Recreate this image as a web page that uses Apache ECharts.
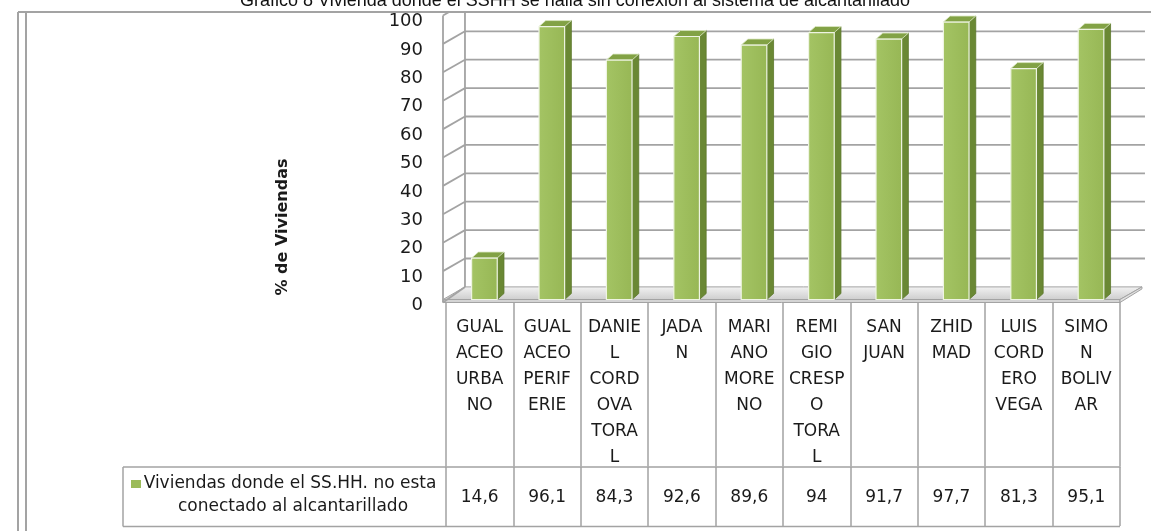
<!DOCTYPE html>
<html><head><meta charset="utf-8">
<script src="https://cdn.jsdelivr.net/npm/echarts@6/dist/echarts.min.js"></script>
<style>html,body{margin:0;padding:0;background:#fff}#c{width:1151px;height:531px}</style>
</head><body><div id="c"></div>
<script>
const chartTitle = 'Gráfico 8 Vivienda donde el SSHH se halla sin conexión al sistema de alcantarillado';
const yAxisTitle = '% de Viviendas';
const legendLines = ['Viviendas donde el SS.HH. no esta', 'conectado al alcantarillado'];
const categories = ['GUAL\nACEO\nURBA\nNO', 'GUAL\nACEO\nPERIF\nERIE', 'DANIE\nL\nCORD\nOVA\nTORA\nL', 'JADA\nN', 'MARI\nANO\nMORE\nNO', 'REMI\nGIO\nCRESP\nO\nTORA\nL', 'SAN\nJUAN', 'ZHID\nMAD', 'LUIS\nCORD\nERO\nVEGA', 'SIMO\nN\nBOLIV\nAR'];
const values = [14.6, 96.1, 84.3, 92.6, 89.6, 94, 91.7, 97.7, 81.3, 95.1];
const yTicks = [0, 10, 20, 30, 40, 50, 60, 70, 80, 90, 100];

const FONT = 'DejaVu Sans';
const GRID_COLOR = '#A3A3A3';
const TOP_CLIP = 12;
const valueLabels = values.map(v => String(v).replace('.', ','));

function clipSeg(x1, y1, x2, y2) {
  if (y1 < TOP_CLIP && y2 < TOP_CLIP) return null;
  if (y1 < TOP_CLIP) { const t = (TOP_CLIP - y1) / (y2 - y1); x1 = x1 + (x2 - x1) * t; y1 = TOP_CLIP; }
  if (y2 < TOP_CLIP) { const t = (TOP_CLIP - y2) / (y1 - y2); x2 = x2 + (x1 - x2) * t; y2 = TOP_CLIP; }
  return { x1, y1, x2, y2 };
}

function wallItem(params, api) {
  const band = api.size([1, 0])[0];
  const left = api.coord([0, 0])[0] - band / 2;
  const right = api.coord([categories.length - 1, 0])[0] + band / 2;
  const y = v => api.coord([0, v])[1];
  const dx = band * 0.326, dy = -12.6;
  const FL = left - 3;
  const y0 = y(0);
  const ch = [];
  const addLine = (x1, y1, x2, y2, w) => {
    const s = clipSeg(x1, y1, x2, y2);
    if (s) ch.push({ type: 'line', silent: true, shape: s, style: { stroke: GRID_COLOR, lineWidth: w || 1.8 } });
  };
  ch.push({ type: 'polygon', silent: true,
    shape: { points: [[FL, y0], [right, y0], [right + dx, y0 + dy], [FL + dx, y0 + dy]] },
    style: { fill: new echarts.graphic.LinearGradient(0, 0, 0, 1, [{ offset: 0, color: '#f3f3f3' }, { offset: 1, color: '#cdcdcd' }]), stroke: GRID_COLOR, lineWidth: 1 } });
  ch.push({ type: 'polygon', silent: true,
    shape: { points: [[FL, y0], [right, y0], [right, y0 + 3], [FL, y0 + 3]] },
    style: { fill: '#d4d4d4', stroke: GRID_COLOR, lineWidth: 1 } });
  ch.push({ type: 'polygon', silent: true,
    shape: { points: [[right, y0], [right + dx, y0 + dy], [right + dx, y0 + dy + 2], [right, y0 + 3]] },
    style: { fill: '#e0e0e0', stroke: GRID_COLOR, lineWidth: 1 } });
  yTicks.forEach(v => { if (v > 0) addLine(FL + dx, y(v) + dy, right + dx + 3, y(v) + dy); });
  addLine(FL, y(100), FL, y0 + 3);
  addLine(FL + dx, y(100) + dy, FL + dx, y0 + dy);
  yTicks.forEach(v => addLine(FL, y(v) + (v === 0 ? 3 : 0), FL + dx, y(v) + dy));
  return { type: 'group', children: ch };
}

function barItem(params, api) {
  const i = api.value(0), v = api.value(1);
  const band = api.size([1, 0])[0];
  const pt = api.coord([i, v]);
  const yt = pt[1];
  const yb = api.coord([i, 0])[1];
  const w = band * 0.38, sx = band * 0.1, sy = -6;
  const x0 = pt[0] + band * 0.07 - w / 2, x1 = x0 + w;
  return { type: 'group', children: [
    { type: 'polygon', shape: { points: [[x1, yt], [x1 + sx, yt + sy], [x1 + sx, yb + sy], [x1, yb]] },
      style: { fill: '#6A8834', stroke: '#5C772B', lineWidth: 0.8 } },
    { type: 'polygon', shape: { points: [[x0, yt], [x0 + sx, yt + sy], [x1 + sx, yt + sy], [x1, yt]] },
      style: { fill: '#82A245', stroke: '#DCE8C4', lineWidth: 0.8 } },
    { type: 'rect', shape: { x: x0, y: yt, width: w, height: yb - yt },
      style: { fill: new echarts.graphic.LinearGradient(0, 0, 1, 0, [{ offset: 0, color: '#A4C464' }, { offset: 1, color: '#97B755' }]), stroke: '#EEF4E2', lineWidth: 1.2 } }
  ] };
}

const chart = echarts.init(document.getElementById('c'), null, { renderer: 'canvas' });
const option = {
  animation: false,
  backgroundColor: '#fff',
  textStyle: { fontFamily: FONT },
  grid: [
    { left: 446, right: 31, top: 15.5, bottom: 231.5, containLabel: false, outerBoundsMode: 'none' },
    { left: 446, right: 31, top: 21.5, bottom: 225.5, containLabel: false, outerBoundsMode: 'none' }
  ],
  xAxis: [
    { type: 'category', data: categories, gridIndex: 0, position: 'bottom',
      axisLine: { show: false },
      axisTick: { show: true, length: 167, lineStyle: { color: GRID_COLOR, width: 1.5 } },
      axisLabel: { interval: 0, margin: 15, fontSize: 17, lineHeight: 26, color: '#1a1a1a', fontFamily: FONT },
      splitLine: { show: false } },
    { type: 'category', data: valueLabels, gridIndex: 0, position: 'bottom', offset: 167.5,
      axisLine: { show: true, lineStyle: { color: GRID_COLOR, width: 1.5 } },
      axisTick: { show: true, length: 59, lineStyle: { color: GRID_COLOR, width: 1.5 } },
      axisLabel: { interval: 0, margin: 22, fontSize: 17, color: '#1a1a1a', fontFamily: FONT },
      splitLine: { show: false } },
    { type: 'value', gridIndex: 1, min: 0, max: 1, show: false }
  ],
  yAxis: [
    { type: 'value', gridIndex: 0, min: 0, max: 100, interval: 10, show: true,
      axisLine: { show: false }, axisTick: { show: false }, splitLine: { show: false }, axisLabel: { show: false } },
    { type: 'value', gridIndex: 1, min: 0, max: 100, interval: 10,
      axisLine: { show: false }, axisTick: { show: false }, splitLine: { show: false },
      axisLabel: { margin: 23, fontSize: 18, color: '#1a1a1a', fontFamily: FONT } }
  ],
  series: [
    { type: 'custom', name: 'walls', xAxisIndex: 0, yAxisIndex: 0, clip: false, silent: true, z: 1,
      renderItem: wallItem, encode: { x: 0, y: 1 }, data: [[0, 0]] },
    { type: 'custom', name: legendLines.join(' '), xAxisIndex: 0, yAxisIndex: 0, clip: false, z: 2,
      renderItem: barItem, encode: { x: 0, y: 1 }, data: values.map((v, i) => [i, v]) }
  ],
  graphic: [
    { type: 'line', shape: { x1: 18, y1: 12, x2: 1151, y2: 12 }, style: { stroke: GRID_COLOR, lineWidth: 2 }, silent: true },
    { type: 'line', shape: { x1: 18, y1: 12, x2: 18, y2: 531 }, style: { stroke: GRID_COLOR, lineWidth: 2 }, silent: true },
    { type: 'line', shape: { x1: 26, y1: 12, x2: 26, y2: 531 }, style: { stroke: GRID_COLOR, lineWidth: 2 }, silent: true },
    { type: 'text', x: 575, y: 1, z: 10, style: { text: chartTitle, font: '18px "Liberation Sans"', fill: '#111', textAlign: 'center', textVerticalAlign: 'middle' }, silent: true },
    { type: 'text', x: 283, y: 227, rotation: Math.PI / 2, style: { text: yAxisTitle, font: 'bold 16px "DejaVu Sans"', fill: '#1a1a1a', textAlign: 'center', textVerticalAlign: 'middle' }, silent: true },
    { type: 'line', shape: { x1: 123, y1: 467, x2: 446, y2: 467 }, style: { stroke: GRID_COLOR, lineWidth: 1.5 }, silent: true },
    { type: 'line', shape: { x1: 123, y1: 526.5, x2: 1120, y2: 526.5 }, style: { stroke: GRID_COLOR, lineWidth: 1.5 }, silent: true },
    { type: 'line', shape: { x1: 123, y1: 467, x2: 123, y2: 526.5 }, style: { stroke: GRID_COLOR, lineWidth: 1.5 }, silent: true },
    { type: 'rect', shape: { x: 131, y: 480, width: 10, height: 8 }, style: { fill: '#9BBB59' }, silent: true },
    { type: 'text', x: 290, y: 484, style: { text: legendLines[0], font: '17px "DejaVu Sans"', fill: '#1a1a1a', textAlign: 'center', textVerticalAlign: 'middle' }, silent: true },
    { type: 'text', x: 293, y: 507, style: { text: legendLines[1], font: '17px "DejaVu Sans"', fill: '#1a1a1a', textAlign: 'center', textVerticalAlign: 'middle' }, silent: true }
  ]
};
chart.setOption(option);
</script></body></html>
